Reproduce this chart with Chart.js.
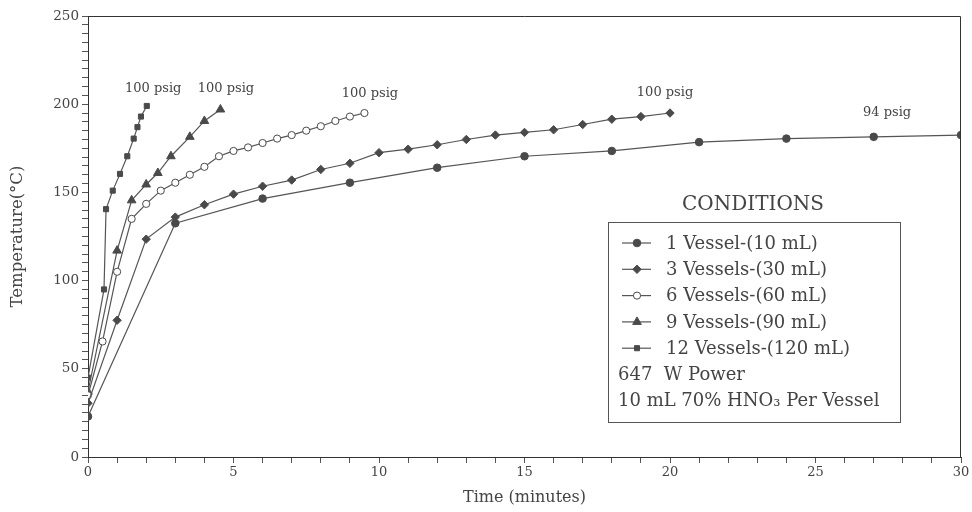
<!DOCTYPE html>
<html>
<head>
<meta charset="utf-8">
<script src="https://cdn.jsdelivr.net/npm/chart.js"></script>
<style>
  body { margin: 0; background: #fff; }
  #wrap { width: 972px; height: 512px; }
</style>
</head>
<body>
<div id="wrap"><canvas id="tempChart" width="972" height="512"></canvas></div>
<script>
// series names
const seriesNames = [
    '1 Vessel-(10 mL)',
    '3 Vessels-(30 mL)',
    '6 Vessels-(60 mL)',
    '9 Vessels-(90 mL)',
    '12 Vessels-(120 mL)'
];

// time (minutes) and temperature (°C)
const time1 = [0, 3, 6, 9, 12, 15, 18, 21, 24, 27, 30];
const temp1 = [23, 132.5, 146.5, 155.5, 164, 170.5, 173.5, 178.5, 180.5, 181.5, 182.5];

const time3 = [0, 1, 2, 3, 4, 5, 6, 7, 8, 9, 10, 11, 12, 13, 14, 15, 16, 17, 18, 19, 20];
const temp3 = [30.5, 77.5, 123.5, 136, 143, 149, 153.5, 157, 163, 166.5, 172.5, 174.5, 177, 180, 182.5, 184, 185.5, 188.5, 191.5, 193, 195];

const time6 = [0, 0.5, 1, 1.5, 2, 2.5, 3, 3.5, 4, 4.5, 5, 5.5, 6, 6.5, 7, 7.5, 8, 8.5, 9, 9.5];
const temp6 = [35, 65.5, 105, 135, 143.5, 151, 155.5, 160, 164.5, 170.5, 173.5, 175.5, 178, 180.5, 182.5, 185, 187.5, 190.5, 193, 195];

const time9 = [0, 1, 1.5, 2, 2.4, 2.85, 3.5, 4, 4.55];
const temp9 = [37, 117, 145.5, 154.5, 161, 170.5, 181.5, 190.5, 197];

const time12 = [0, 0.55, 0.62, 0.85, 1.1, 1.35, 1.57, 1.7, 1.82, 2.02];
const temp12 = [45, 95, 140.5, 151, 160.5, 170.5, 180.5, 187, 193, 199];

// tick labels
const xTickLabels = [0, 5, 10, 15, 20, 25, 30];
const yTickLabels = [0, 50, 100, 150, 200, 250];

// pressure notes at the end of each curve (time, temperature)
const noteTexts = ['100 psig', '100 psig', '100 psig', '100 psig', '94 psig'];
const noteTimes = [2.24, 4.74, 9.69, 19.83, 27.46];
const noteTemps = [209, 209, 205.8, 206.3, 195];

const extraLines = ['647  W Power', '10 mL 70% HNO\u2083 Per Vessel'];

const ink = '#4a4a4a';
const serif = "'DejaVu Serif', serif";

function toPoints(xs, ys) {
    return xs.map((x, i) => ({ x: x, y: ys[i] }));
}

const markerStyles = [
    { pointStyle: 'circle', radius: 3.8, fill: ink },
    { pointStyle: 'rectRot', radius: 4.2, fill: ink },
    { pointStyle: 'circle', radius: 3.6, fill: '#fff' },
    { pointStyle: 'triangle', radius: 5, fill: ink },
    { pointStyle: 'rect', radius: 3.6, fill: ink }
];

const seriesData = [
    toPoints(time1, temp1),
    toPoints(time3, temp3),
    toPoints(time6, temp6),
    toPoints(time9, temp9),
    toPoints(time12, temp12)
];

const datasets = seriesNames.map((name, i) => ({
    label: name,
    data: seriesData[i],
    borderColor: '#555',
    borderWidth: 1.2,
    tension: 0,
    fill: false,
    pointStyle: markerStyles[i].pointStyle,
    pointRadius: markerStyles[i].radius,
    pointBackgroundColor: markerStyles[i].fill,
    pointBorderColor: ink,
    pointBorderWidth: 1
}));

// box round the plot (top and right edges)
const framePlugin = {
    id: 'frame',
    afterDraw(chart) {
        const { ctx, chartArea: a } = chart;
        ctx.save();
        ctx.strokeStyle = '#333';
        ctx.lineWidth = 1;
        ctx.beginPath();
        ctx.moveTo(a.left, a.top + 0.5);
        ctx.lineTo(a.right - 0.5, a.top + 0.5);
        ctx.lineTo(a.right - 0.5, a.bottom);
        ctx.stroke();
        ctx.restore();
    }
};

// "100 psig" notes
const notePlugin = {
    id: 'notes',
    afterDatasetsDraw(chart) {
        const { ctx, scales } = chart;
        ctx.save();
        ctx.font = '13px ' + serif;
        ctx.fillStyle = '#444';
        ctx.textAlign = 'center';
        ctx.textBaseline = 'middle';
        noteTexts.forEach((txt, i) => {
            ctx.fillText(txt, scales.x.getPixelForValue(noteTimes[i]), scales.y.getPixelForValue(noteTemps[i]));
        });
        ctx.restore();
    }
};

// CONDITIONS box
const conditionsPlugin = {
    id: 'conditions',
    afterDraw(chart) {
        const ctx = chart.ctx;
        const boxX = 608, boxY = 222, boxW = 292, boxH = 200;
        ctx.save();
        ctx.fillStyle = '#444';
        ctx.font = '20px ' + serif;
        ctx.textAlign = 'center';
        ctx.textBaseline = 'middle';
        ctx.fillText('CONDITIONS', 753, 205);

        ctx.strokeStyle = '#555';
        ctx.lineWidth = 1;
        ctx.strokeRect(boxX + 0.5, boxY + 0.5, boxW, boxH);

        ctx.font = '18px ' + serif;
        ctx.textAlign = 'left';
        const rowGap = 26.3;
        chart.data.datasets.forEach((ds, i) => {
            const y = 243 + i * rowGap;
            ctx.strokeStyle = '#555';
            ctx.lineWidth = 1.2;
            ctx.beginPath();
            ctx.moveTo(622, y);
            ctx.lineTo(651, y);
            ctx.stroke();
            ctx.fillStyle = ds.pointBackgroundColor;
            ctx.strokeStyle = ds.pointBorderColor;
            ctx.lineWidth = 1;
            Chart.helpers.drawPoint(ctx, {
                pointStyle: ds.pointStyle,
                radius: ds.pointRadius,
                rotation: 0,
                borderWidth: 1
            }, 637, y);
            ctx.fillStyle = '#444';
            ctx.fillText(ds.label, 666, y + 1);
        });
        extraLines.forEach((txt, j) => {
            ctx.fillText(txt, 618, 243 + (5 + j) * rowGap + 1);
        });
        ctx.restore();
    }
};

new Chart(document.getElementById('tempChart'), {
    type: 'line',
    data: { datasets: datasets },
    options: {
        responsive: false,
        animation: false,
        layout: { padding: { left: 0, right: 11, top: 16, bottom: 0 } },
        plugins: {
            legend: { display: false },
            tooltip: { enabled: false }
        },
        scales: {
            x: {
                type: 'linear',
                min: 0,
                max: 30,
                afterFit: (scale) => { scale.height = 55; },
                ticks: {
                    stepSize: 1,
                    autoSkip: false,
                    maxRotation: 0,
                    padding: 2,
                    color: '#444',
                    font: { family: serif, size: 13 },
                    callback: (v) => xTickLabels.includes(v) ? String(v) : ''
                },
                grid: { drawOnChartArea: false, drawTicks: true, tickLength: 6, color: '#555' },
                border: { color: '#333', width: 1 },
                title: {
                    display: true,
                    text: 'Time (minutes)',
                    color: '#444',
                    font: { family: serif, size: 16 },
                    padding: { top: 2, bottom: 5 }
                }
            },
            y: {
                min: 0,
                max: 250,
                afterFit: (scale) => { scale.width = 88; },
                ticks: {
                    stepSize: 5,
                    autoSkip: false,
                    padding: 3,
                    color: '#444',
                    font: { family: serif, size: 13.5 },
                    callback: (v) => yTickLabels.includes(v) ? String(v) : ''
                },
                grid: { drawOnChartArea: false, drawTicks: true, tickLength: 6, color: '#555' },
                border: { color: '#333', width: 1 },
                title: {
                    display: true,
                    text: 'Temperature(\u00b0C)',
                    color: '#444',
                    font: { family: serif, size: 16.5 },
                    padding: { top: 8, bottom: 4 }
                }
            }
        }
    },
    plugins: [framePlugin, notePlugin, conditionsPlugin]
});
</script>
</body>
</html>
